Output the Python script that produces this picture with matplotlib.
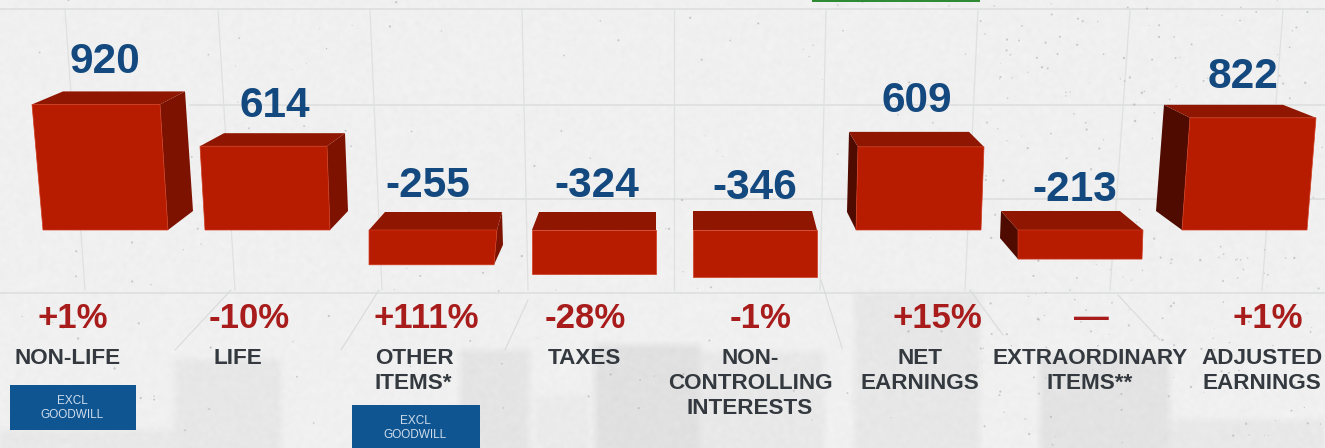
import numpy as np
import matplotlib
matplotlib.use("Agg")
import matplotlib.pyplot as plt
from matplotlib.patches import Polygon, Rectangle

plt.rcParams['font.family'] = ['Liberation Sans', 'DejaVu Sans']

# earnings contributions
values = [920, 614, -255, -324, -346, 609, -213, 822]
changes = ['+1%', '-10%', '+111%', '-28%', '-1%', '+15%', '\u2014', '+1%']
categories = [['NON-LIFE'], ['LIFE'], ['OTHER', 'ITEMS*'], ['TAXES'],
              ['NON-', 'CONTROLLING', 'INTERESTS'], ['NET', 'EARNINGS'],
              ['EXTRAORDINARY', 'ITEMS**'], ['ADJUSTED', 'EARNINGS']]
box_text = 'EXCL\nGOODWILL'

# pixel layout
W, H = 1325, 448
BASE = 230        # pixel row of the zero line
SCALE = 0.1365    # pixels per unit

# front face x: top left, top right, bottom right, bottom left
front_x = [(32, 160, 168, 43), (200, 327, 330, 205), (369, 497, 494, 369),
           (532, 656, 656, 532), (693, 817, 817, 693), (858, 984, 981, 856),
           (1018, 1143, 1142, 1018), (1190, 1316, 1307, 1182)]
# back edge x of the top face and its height above the front edge
back_x = [(63, 185), (224, 345), (385, 502), (539, 656),
          (693, 812), (849, 969), (1001, 1120), (1164, 1283)]
depth = [13, 13, 18, 18, 19, 15, 19, 13]
# visible side: x of the far bottom corner, its pixel offset up from the front bottom
side = [('r', 193, 19), ('r', 348, 19), ('r', 503, 20), None, None,
        ('l', 847, 18), ('l', 1000, 21), ('l', 1156, 19)]

value_x = [105, 275, 428, 597, 755, 917, 1075, 1243]
value_y = [62, 106, 186, 186, 188, 101, 190, 77]
change_x = [73, 249, 426, 585, 761, 937, 1091, 1268]
label_x = [68, 238, 375, 584, 750, 920, 1090, 1262]
label_ha = ['center', 'center', 'left', 'center', 'center', 'center', 'center', 'center']
box_spots = [(10, 385, 126, 45), (352, 405, 128, 43)]

# concrete wall: grid lines, skyline blocks, scratches
h_lines = [(0, 1325, 9), (190, 1325, 105), (440, 1325, 199), (0, 1325, 293)]
v_lines = [(65, 10, 85, 290), (218, 10, 235, 290), (370, 10, 382, 290),
           (522, 10, 528, 290), (674, 10, 674, 290), (826, 10, 820, 290),
           (978, 10, 965, 290), (1130, 10, 1110, 290), (1283, 10, 1262, 290)]
scratches = [(231, 290, 175, 350), (379, 290, 341, 350), (528, 300, 505, 350),
             (821, 280, 842, 348), (970, 290, 1003, 335), (1118, 295, 1160, 340)]
# x, top row, width, darkening
skyline = [(175, 360, 107, 0.035), (460, 350, 70, 0.045), (535, 395, 55, 0.02),
           (595, 345, 105, 0.06), (700, 352, 125, 0.03), (855, 293, 125, 0.035),
           (1040, 355, 130, 0.05), (1170, 420, 155, 0.03), (0, 430, 175, 0.03)]


def ypix(p):
    # pixel row to data units
    return (BASE - p) / SCALE


def smooth(a, n):
    kernel = np.ones(n) / n
    a = np.apply_along_axis(lambda r: np.convolve(r, kernel, 'same'), 1, a)
    return np.apply_along_axis(lambda c: np.convolve(c, kernel, 'same'), 0, a)


fig = plt.figure(figsize=(W / 100, H / 100), dpi=100)
ax = fig.add_axes([0, 0, 1, 1])
ax.set_xlim(0, W)
ax.set_ylim(ypix(H), ypix(0))
ax.axis('off')

# wall texture, fixed seed so the grain stays the same on each run
rng = np.random.default_rng(7)
wall = np.full((H + 40, W + 40), 0.94)
for x, y, w, d in skyline:
    wall[y + 20:, x + 20:x + w + 20] -= d
wall = smooth(wall, 9)[20:-20, 20:-20]
wall += smooth(rng.normal(0, 1, (H, W)), 5) * 0.018
ax.imshow(wall, cmap='gray', vmin=0, vmax=1, aspect='auto', zorder=0,
          extent=(0, W, ypix(H), ypix(0)), interpolation='bilinear')

for x0, x1, y in h_lines:
    ax.plot([x0, x1], [ypix(y), ypix(y)], color='#dcdddd', lw=1.1, zorder=2)
for x0, y0, x1, y1 in v_lines:
    ax.plot([x0, x1], [ypix(y0), ypix(y1)], color='#dfe0e0', lw=0.9, zorder=2)
for x0, y0, x1, y1 in scratches:
    ax.plot([x0, x1], [ypix(y0), ypix(y1)], color='#d8dadb', lw=0.8, zorder=2)

# dust specks, heavier on the right hand side
sx = rng.uniform(0, W, 420)
sx = np.where(rng.random(420) < 0.55, rng.uniform(980, W, 420), sx)
sy = rng.uniform(0, H, 420)
ax.scatter(sx, ypix(sy), s=rng.uniform(0.3, 3, 420), color='#a9adb0', alpha=0.6,
           linewidths=0, zorder=2)

ax.add_patch(Rectangle((812, ypix(2)), 168, 2 / SCALE, fc='#2e8b34', ec='none', zorder=3))

# blocks
FRONT, TOP, SIDE_R, SIDE_L = '#b81c00', '#8f1600', '#7d1200', '#4f0b00'
for i, v in enumerate(values):
    tl, tr, br, bl = front_x[i]
    top = max(v, 0)
    bottom = min(v, 0)
    back = top + depth[i] / SCALE
    bx0, bx1 = back_x[i]
    if side[i] is not None:
        where, far_x, up = side[i]
        far_y = bottom + up / SCALE
        if where == 'r':
            pts = [(tr, top), (bx1, back), (far_x, far_y), (br, bottom)]
            ax.add_patch(Polygon(pts, fc=SIDE_R, ec='none', zorder=4))
        else:
            pts = [(tl, top), (bx0, back), (far_x, far_y), (bl, bottom)]
            ax.add_patch(Polygon(pts, fc=SIDE_L, ec='none', zorder=4))
    ax.add_patch(Polygon([(tl, top), (bx0, back), (bx1, back), (tr, top)],
                         fc=TOP, ec='none', zorder=5))
    ax.add_patch(Polygon([(tl, top), (tr, top), (br, bottom), (bl, bottom)],
                         fc=FRONT, ec='#cf3a20', lw=0.5, zorder=6))

    ax.text(value_x[i], ypix(value_y[i]), str(v), color='#14497f', fontsize=30.5,
            fontweight='bold', ha='center', va='center', zorder=7)
    ax.text(change_x[i], ypix(318), changes[i], color='#a81c1c', fontsize=25,
            fontweight='bold', ha='center', va='center', zorder=7)
    for j, line in enumerate(categories[i]):
        ax.text(label_x[i], ypix(359 + j * 24.5), line, color='#33393e', fontsize=16.2,
                fontweight='bold', ha=label_ha[i], va='center', zorder=7)

for x, y, w, h in box_spots:
    ax.add_patch(Rectangle((x, ypix(y + h)), w, h / SCALE, fc='#0e5592', ec='none', zorder=7))
    ax.text(x + w / 2 - 1, ypix(y + 23), box_text, color='#cfdcea', fontsize=8.5,
            ha='center', va='center', linespacing=1.25, zorder=8)

fig.savefig('out.png', dpi=100)
